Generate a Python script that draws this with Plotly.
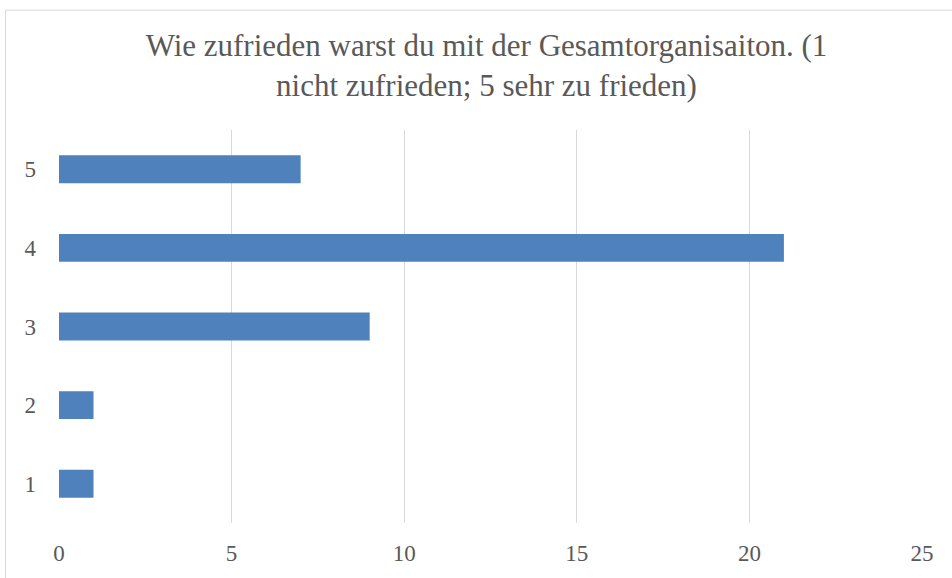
import plotly.graph_objects as go

categories = ["1", "2", "3", "4", "5"]
values = [1, 1, 9, 21, 7]
x_ticks = [0, 5, 10, 15, 20, 25]

title_text = "Wie zufrieden warst du mit der Gesamtorganisaiton. (1<br>nicht zufrieden; 5 sehr zu frieden)"

W, H = 952, 578
L, R, T, B = 59, 30, 130, 53
pw, ph = W - L - R, H - T - B

def px_to_paper_x(px):
    return (px - L) / pw

def px_to_paper_y(py):
    return (H - B - py) / ph

font_family = "Liberation Serif"
text_color = "#595959"

fig = go.Figure(go.Bar(
    x=values, y=categories, orientation="h",
    marker=dict(color="#4F81BD", line=dict(width=0)),
))

fig.update_layout(
    width=W, height=H,
    margin=dict(l=L, r=R, t=T, b=B),
    paper_bgcolor="white", plot_bgcolor="white",
    bargap=0.645,
    showlegend=False,
    font=dict(family=font_family, color=text_color, size=23),
    title=dict(text=title_text, x=486.5 / W, xref="container", xanchor="center",
               y=1 - 56 / H, yref="container", yanchor="middle",
               font=dict(family=font_family, size=31, color=text_color)),
    xaxis=dict(range=[0, 25], tickvals=x_ticks, showgrid=True, gridcolor="#D9D9D9",
               gridwidth=1, zeroline=False, showline=False, ticks="",
               ticklabelstandoff=14, tickfont=dict(size=23)),
    yaxis=dict(type="category", categoryorder="array", categoryarray=categories,
               showgrid=False, zeroline=False, showline=False, ticks="",
               ticklabelstandoff=22, tickfont=dict(size=23)),
    shapes=[dict(type="rect", xref="paper", yref="paper",
                 x0=px_to_paper_x(5.5), x1=px_to_paper_x(970),
                 y0=px_to_paper_y(600), y1=px_to_paper_y(9.5),
                 line=dict(color="#D9D9D9", width=1), fillcolor="rgba(0,0,0,0)",
                 layer="below")],
)

fig.write_html("out.html", config={"displayModeBar": False},
               post_script="document.body.style.margin='0';document.body.style.overflow='hidden';")
